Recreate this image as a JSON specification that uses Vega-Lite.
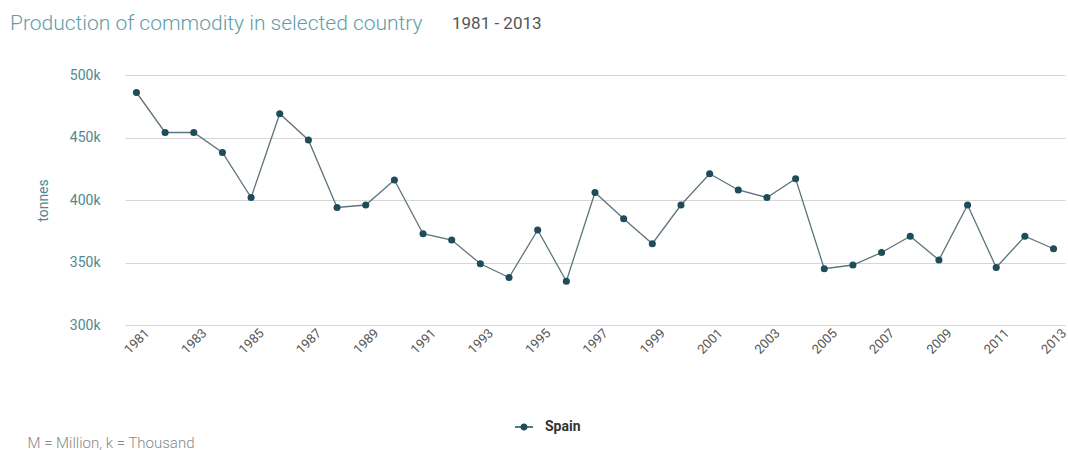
{
  "$schema": "https://vega.github.io/schema/vega-lite/v6.json",
  "width": 940,
  "height": 250,
  "autosize": {"type": "none"},
  "padding": {"left": 125, "top": 75, "right": 3, "bottom": 125},
  "background": "white",
  "view": {"stroke": null},
  "title": {
    "text": "Production of commodity in selected country",
    "subtitle": "1981 - 2013",
    "anchor": "start",
    "frame": "group",
    "font": "Roboto",
    "fontSize": 21,
    "fontWeight": 300,
    "color": "#5f9ea6",
    "subtitleFont": "Roboto",
    "subtitleFontSize": 17,
    "subtitleColor": "#555555",
    "dx": -115,
    "offset": 34,
    "encode": {
      "subtitle": {"update": {"dx": {"value": 327}, "dy": {"value": -21}}}
    }
  },
  "data": {
    "values": [
      {"year": 1981, "value": 486000, "country": "Spain"},
      {"year": 1982, "value": 454000, "country": "Spain"},
      {"year": 1983, "value": 454000, "country": "Spain"},
      {"year": 1984, "value": 438000, "country": "Spain"},
      {"year": 1985, "value": 402000, "country": "Spain"},
      {"year": 1986, "value": 469000, "country": "Spain"},
      {"year": 1987, "value": 448000, "country": "Spain"},
      {"year": 1988, "value": 394000, "country": "Spain"},
      {"year": 1989, "value": 396000, "country": "Spain"},
      {"year": 1990, "value": 416000, "country": "Spain"},
      {"year": 1991, "value": 373000, "country": "Spain"},
      {"year": 1992, "value": 368000, "country": "Spain"},
      {"year": 1993, "value": 349000, "country": "Spain"},
      {"year": 1994, "value": 338000, "country": "Spain"},
      {"year": 1995, "value": 376000, "country": "Spain"},
      {"year": 1996, "value": 335000, "country": "Spain"},
      {"year": 1997, "value": 406000, "country": "Spain"},
      {"year": 1998, "value": 385000, "country": "Spain"},
      {"year": 1999, "value": 365000, "country": "Spain"},
      {"year": 2000, "value": 396000, "country": "Spain"},
      {"year": 2001, "value": 421000, "country": "Spain"},
      {"year": 2002, "value": 408000, "country": "Spain"},
      {"year": 2003, "value": 402000, "country": "Spain"},
      {"year": 2004, "value": 417000, "country": "Spain"},
      {"year": 2005, "value": 345000, "country": "Spain"},
      {"year": 2006, "value": 348000, "country": "Spain"},
      {"year": 2007, "value": 358000, "country": "Spain"},
      {"year": 2008, "value": 371000, "country": "Spain"},
      {"year": 2009, "value": 352000, "country": "Spain"},
      {"year": 2010, "value": 396000, "country": "Spain"},
      {"year": 2011, "value": 346000, "country": "Spain"},
      {"year": 2012, "value": 371000, "country": "Spain"},
      {"year": 2013, "value": 361000, "country": "Spain"}
    ]
  },
  "encoding": {
    "x": {
      "field": "year",
      "type": "quantitative",
      "scale": {"domain": [1980.6, 2013.4], "nice": false, "zero": false},
      "axis": {
        "values": [1981, 1983, 1985, 1987, 1989, 1991, 1993, 1995, 1997, 1999, 2001, 2003, 2005, 2007, 2009, 2011, 2013],
        "format": "d",
        "grid": false,
        "ticks": false,
        "domain": false,
        "labelAngle": -45,
        "labelAlign": "center",
        "labelBaseline": "middle",
        "labelPadding": 16,
        "labelColor": "#555555",
        "labelFont": "Roboto",
        "labelFontSize": 13,
        "title": "M = Million, k = Thousand",
        "titleX": -98,
        "titleY": 117,
        "titleAnchor": null,
        "titleAlign": "left",
        "titleBaseline": "middle",
        "titleFont": "Roboto",
        "titleFontSize": 15,
        "titleFontWeight": 300,
        "titleColor": "#888888"
      }
    },
    "y": {
      "field": "value",
      "type": "quantitative",
      "scale": {"domain": [300000, 500000], "nice": false, "zero": false},
      "axis": {
        "values": [300000, 350000, 400000, 450000, 500000],
        "labelExpr": "datum.value / 1000 + 'k'",
        "ticks": false,
        "domain": false,
        "gridColor": "#d6d6d6",
        "gridWidth": 1,
        "labelPadding": 25,
        "labelColor": "#4f8792",
        "labelFont": "Roboto",
        "labelFontSize": 14,
        "title": "tonnes",
        "titleX": -82,
        "titleY": 125,
        "titleAngle": -90,
        "titleAlign": "center",
        "titleBaseline": "middle",
        "titleFont": "Roboto",
        "titleFontSize": 14,
        "titleFontWeight": "normal",
        "titleColor": "#4f8792"
      }
    }
  },
  "layer": [
    {
      "mark": {"type": "line", "color": "#5d747b", "strokeWidth": 1.3}
    },
    {
      "mark": {"type": "point", "filled": true, "size": 50, "opacity": 1},
      "encoding": {
        "color": {
          "field": "country",
          "type": "nominal",
          "scale": {"range": ["#1f4c5b"]},
          "legend": {
            "orient": "none",
            "legendX": 390,
            "legendY": 343,
            "title": null,
            "symbolType": "M-1,-0.08H1V0.08H-1Z M0.4,0A0.4,0.4,0,1,1,-0.4,0A0.4,0.4,0,1,1,0.4,0Z",
            "symbolSize": 324,
            "symbolStrokeWidth": 0,
            "labelOffset": 12,
            "labelFont": "Roboto",
            "labelFontSize": 14,
            "labelFontWeight": "bold",
            "labelColor": "#333333"
          }
        }
      }
    }
  ]
}
